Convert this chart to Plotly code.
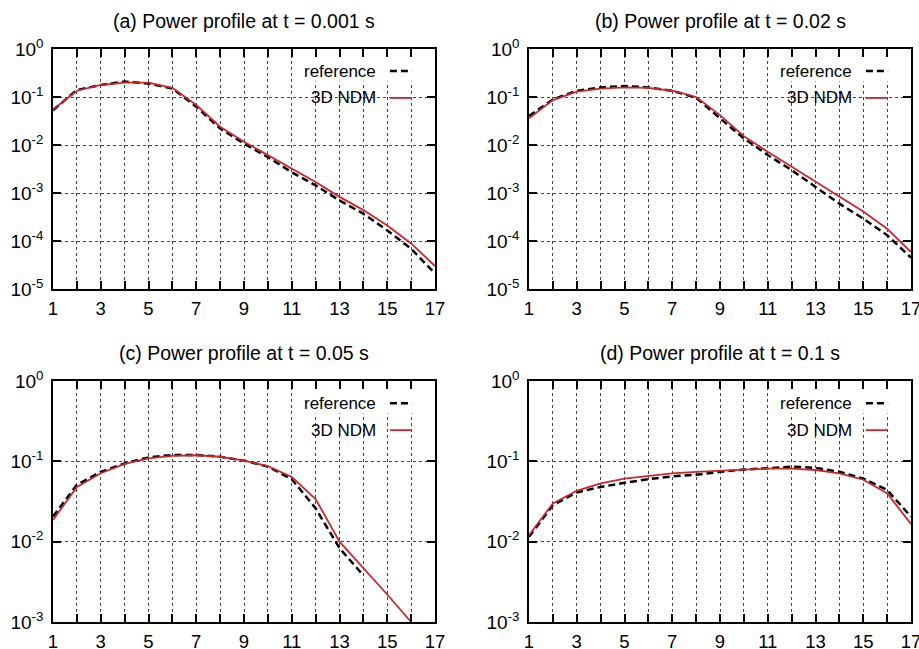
import plotly.graph_objects as go

# ---------------- data ----------------
x_pos = list(range(1, 18))

ref_a = [0.053, 0.14, 0.178, 0.21, 0.19, 0.15, 0.063, 0.022, 0.0107, 0.0056,
         0.0027, 0.00144, 0.0007, 0.00037, 0.000166, 6.9e-5, 2.1e-5]
ndm_a = [0.055, 0.135, 0.178, 0.2, 0.2, 0.155, 0.068, 0.024, 0.0117, 0.0062,
         0.0032, 0.0017, 0.00083, 0.00044, 0.00021, 8.9e-5, 3.0e-5]

ref_b = [0.04, 0.089, 0.135, 0.158, 0.17, 0.158, 0.135, 0.097, 0.036, 0.0137,
         0.0062, 0.003, 0.00134, 0.0006, 0.000293, 0.000132, 4.5e-5]
ndm_b = [0.036, 0.086, 0.13, 0.15, 0.158, 0.155, 0.135, 0.1, 0.042, 0.0153,
         0.0072, 0.0035, 0.0017, 0.00083, 0.00041, 0.00018, 5.9e-5]

ref_c = [0.0205, 0.051, 0.074, 0.094, 0.112, 0.12, 0.12, 0.114, 0.102, 0.086,
         0.06, 0.026, 0.0083, 0.0038]
ndm_c = [0.0186, 0.048, 0.071, 0.093, 0.109, 0.117, 0.119, 0.114, 0.102, 0.087,
         0.064, 0.034, 0.01, 0.0047, 0.0022, 0.001]

ref_d = [0.0115, 0.0285, 0.041, 0.048, 0.054, 0.06, 0.065, 0.068, 0.074, 0.079,
         0.082, 0.086, 0.083, 0.074, 0.061, 0.044, 0.0205]
ndm_d = [0.012, 0.030, 0.043, 0.053, 0.061, 0.066, 0.071, 0.074, 0.077, 0.079,
         0.081, 0.081, 0.078, 0.071, 0.059, 0.040, 0.0166]

titles = ["(a) Power profile at t = 0.001 s", "(b) Power profile at t = 0.02 s",
          "(c) Power profile at t = 0.05 s", "(d) Power profile at t = 0.1 s"]
series_names = ["reference", "3D NDM"]

x_tick_vals = list(range(1, 18))
x_tick_text = [str(v) if v % 2 == 1 else "" for v in x_tick_vals]

y_exp_ab = [0, -1, -2, -3, -4, -5]
y_exp_cd = [0, -1, -2, -3]

# ---------------- style ----------------
W, H = 919, 649
FONT = "Liberation Sans, Arial, Helvetica, sans-serif"
RED = "#c8282c"
BLACK = "#000000"

# panel pixel boxes (left, right, top, bottom)
boxes = [(53, 435, 49, 289), (529, 911, 49, 289),
         (53, 435, 381, 622), (529, 911, 381, 622)]

panels = [
    (ref_a, ndm_a, y_exp_ab),
    (ref_b, ndm_b, y_exp_ab),
    (ref_c, ndm_c, y_exp_cd),
    (ref_d, ndm_d, y_exp_cd),
]

fig = go.Figure()
layout = dict(
    width=W, height=H,
    margin=dict(l=0, r=0, t=0, b=0, pad=0),
    paper_bgcolor="white", plot_bgcolor="white",
    showlegend=False,
    font=dict(family=FONT, size=17, color="black"),
    annotations=[], shapes=[],
)

for i, ((ref, ndm, yexp), (l, r, t, b)) in enumerate(zip(panels, boxes)):
    n = i + 1
    sfx = "" if n == 1 else str(n)
    xa, ya = "x" + sfx, "y" + sfx

    fig.add_trace(go.Scatter(
        x=x_pos[:len(ref)], y=ref, mode="lines", name=series_names[0],
        xaxis=xa, yaxis=ya,
        line=dict(color=BLACK, width=2.5, dash="7px,4px")))
    fig.add_trace(go.Scatter(
        x=x_pos[:len(ndm)], y=ndm, mode="lines", name=series_names[1],
        xaxis=xa, yaxis=ya,
        line=dict(color=RED, width=1.8)))

    axis_common = dict(
        showline=True, linecolor="black", linewidth=1.5, mirror="ticks",
        ticks="inside", ticklen=8, tickwidth=1.5, tickcolor="black",
        showgrid=True, gridcolor="#444444", gridwidth=1, griddash="dot",
        zeroline=False, automargin=False, ticklabeloverflow="allow",
    )
    ymin, ymax = min(yexp), max(yexp)
    layout["xaxis" + sfx] = dict(
        axis_common,
        domain=[l / W, r / W], anchor=ya, range=[1, 17],
        tickmode="array", tickvals=x_tick_vals, ticktext=x_tick_text,
        ticklabelstandoff=2,
        tickfont=dict(family=FONT, size=18.5, color="black"),
    )
    layout["yaxis" + sfx] = dict(
        axis_common,
        domain=[1 - b / H, 1 - t / H], anchor=xa, type="log",
        range=[ymin, ymax],
        tickmode="array", tickvals=[10.0 ** e for e in yexp],
        ticktext=["10<sup>%d</sup>" % e for e in yexp],
        ticklabelstandoff=4,
        tickfont=dict(family=FONT, size=19, color="black"),
    )

    # title
    layout["annotations"].append(dict(
        text=titles[i], xref="paper", yref="paper",
        x=(l + r) / 2 / W, y=1 - (t - 28) / H,
        xanchor="center", yanchor="middle", showarrow=False,
        font=dict(family=FONT, size=19.5, color="black")))

    # gridline-free area behind the key (data coordinates, below traces)
    layout["shapes"].append(dict(
        type="rect", xref=xa, yref=ya,
        x0=1 + 0.64 * 16, x1=1 + 0.985 * 16,
        y0=10 ** (ymin + 0.865 * (ymax - ymin)), y1=10 ** (ymin + 0.995 * (ymax - ymin)),
        fillcolor="white", line=dict(width=0), layer="between"))

    # legend (gnuplot style: text then sample)
    xd, yd = xa + " domain", ya + " domain"
    for j, (yy, col, dash, wd) in enumerate([(0.908, BLACK, "7px,4px", 2.5),
                                              (0.796, RED, "solid", 1.8)]):
        layout["annotations"].append(dict(
            text=series_names[j], xref=xd, yref=yd, x=0.851, y=yy,
            xanchor="right", yanchor="middle", showarrow=False,
            font=dict(family=FONT, size=17, color="black")))
        layout["shapes"].append(dict(
            type="line", xref=xd, yref=yd, x0=0.882, x1=0.940, y0=yy, y1=yy,
            line=dict(color=col, width=wd, dash=dash), layer="above"))

fig.update_layout(**layout)
fig.write_html("out.html", config={"displayModeBar": False},
               post_script="document.body.style.margin='0';document.body.style.padding='0';")
